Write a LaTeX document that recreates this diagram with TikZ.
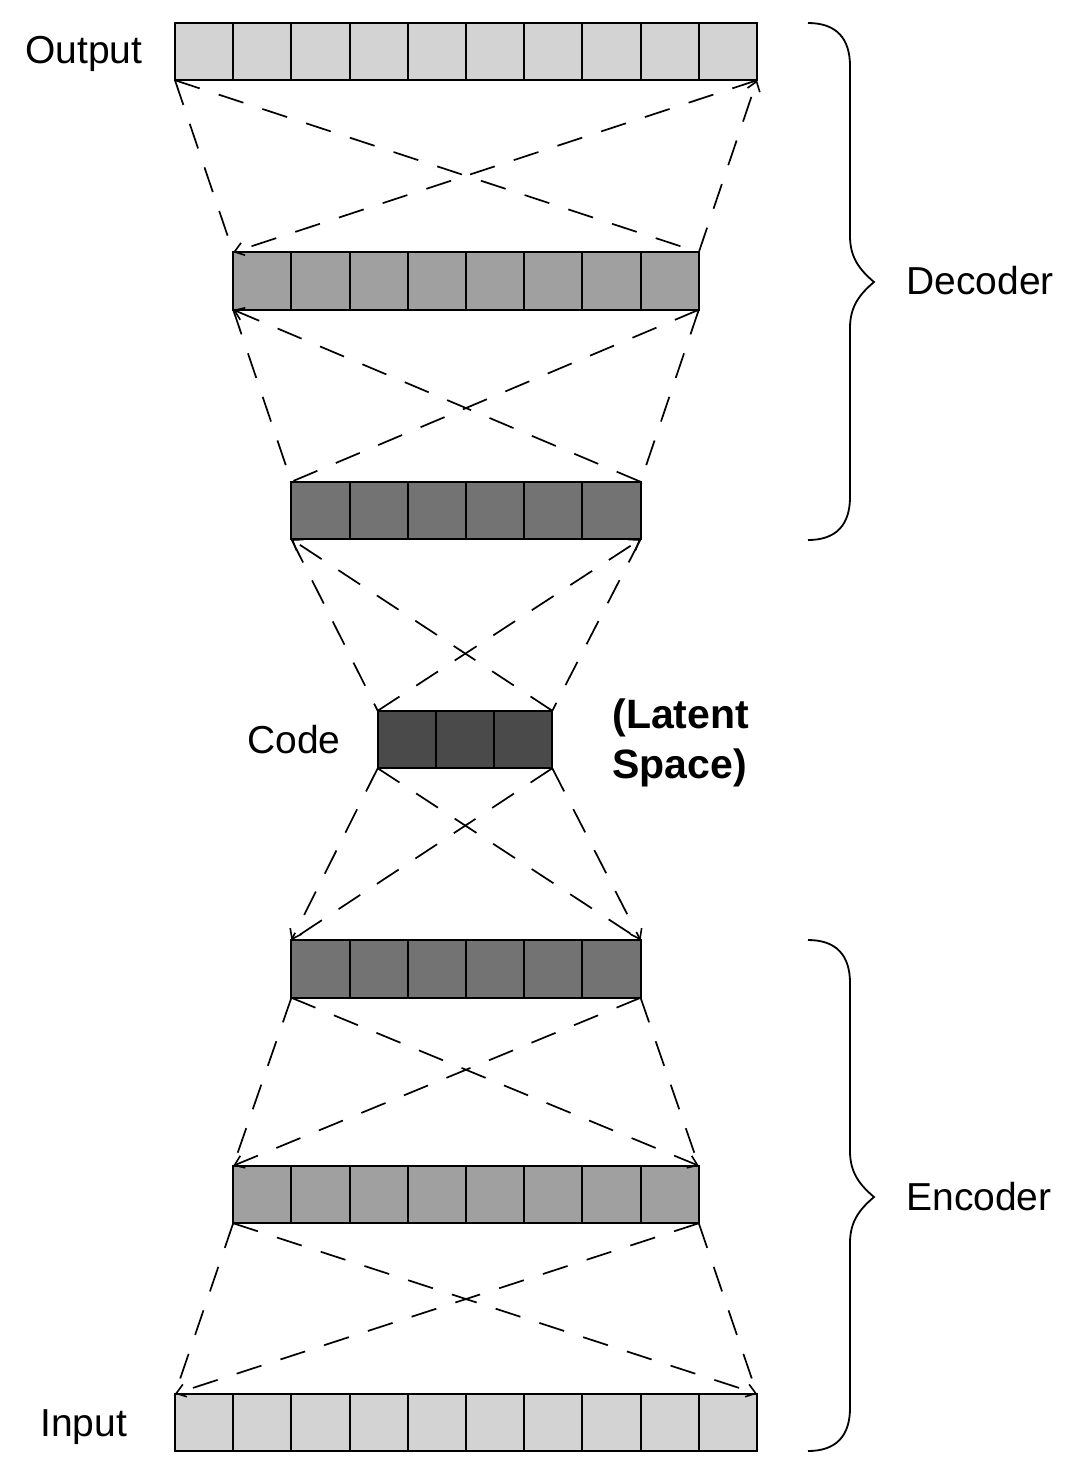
\documentclass[tikz,border=0pt]{standalone}
\usepackage{fontspec}
\setmainfont{Liberation Sans}
\usetikzlibrary{calc,arrows.meta}
\tikzset{
  layerbox/.style={draw=black, line width=1pt, rectangle, inner sep=0pt, outer sep=0pt, minimum height=28.75pt},
  conn/.style={draw=black, line width=0.85pt, dash pattern=on 13pt off 10pt},
  tip/.style={-{Straight Barb[length=4.5pt,width=6.5pt,line width=0.8pt]}},
  lbl/.style={anchor=base west, inner sep=0pt, font=\fontsize{19.5}{23}\selectfont},
  blbl/.style={anchor=base west, inner sep=0pt, font=\fontsize{20.5}{24}\selectfont\bfseries},
  bracefig/.style={draw=black, line width=0.9pt}
}
\newcommand{\mycells}[2]{%
  \foreach \i in {1,...,#2}{%
    \ifnum\i<#2
    \draw[line width=1pt] ($(#1.north west)!{\i/#2}!(#1.north east)$) -- ($(#1.south west)!{\i/#2}!(#1.south east)$);
    \fi
  }%
}
\begin{document}
\begin{tikzpicture}[x=0.5pt,y=-0.5pt]
\useasboundingbox (0,0) rectangle (1081,1480);
\definecolor{clight}{HTML}{D3D3D3}
\definecolor{cmid}{HTML}{A0A0A0}
\definecolor{cdark}{HTML}{737373}
\definecolor{ccode}{HTML}{4A4A4A}

% layers
\node[layerbox, fill=clight, minimum width=291pt] (out) at (466,51.5) {};
\node[layerbox, fill=cmid, minimum width=232.8pt] (d2) at (466,281) {};
\node[layerbox, fill=cdark, minimum width=174.6pt] (d3) at (466,510.5) {};
\node[layerbox, fill=ccode, minimum width=87.3pt] (code) at (465,739.5) {};
\node[layerbox, fill=cdark, minimum width=174.6pt] (e1) at (466,969) {};
\node[layerbox, fill=cmid, minimum width=232.8pt] (e2) at (466,1194.5) {};
\node[layerbox, fill=clight, minimum width=291pt] (inp) at (466,1422.5) {};
\mycells{out}{10}
\mycells{d2}{8}
\mycells{d3}{6}
\mycells{code}{3}
\mycells{e1}{6}
\mycells{e2}{8}
\mycells{inp}{10}

% output - d2
\draw[conn] (out.south west) -- (d2.north west);
\draw[conn, tip] (d2.north east) -- (out.south east);
\draw[conn] (out.south west) -- (d2.north east);
\draw[conn, tip] (out.south east) -- (d2.north west);
% d2 - d3
\draw[conn] (d2.south west) -- (d3.north west);
\draw[conn] (d2.south east) -- (d3.north east);
\draw[conn, tip] (d3.north east) -- (d2.south west);
\draw[conn] (d2.south east) -- (d3.north west);
% d3 - code
\draw[conn] (d3.south west) -- (code.north west);
\draw[conn] (d3.south east) -- (code.north east);
\draw[conn, tip] (code.north east) -- (d3.south west);
\draw[conn, tip] (code.north west) -- (d3.south east);
% code - e1
\draw[conn, tip] (code.south west) -- (e1.north west);
\draw[conn, tip] (code.south east) -- (e1.north east);
\draw[conn] (code.south west) -- (e1.north east);
\draw[conn] (code.south east) -- (e1.north west);
% e1 - e2
\draw[conn] (e1.south west) -- (e2.north west);
\draw[conn] (e1.south east) -- (e2.north east);
\draw[conn, tip] (e1.south west) -- (e2.north east);
\draw[conn, tip] (e1.south east) -- (e2.north west);
% e2 - input
\draw[conn] (e2.south west) -- (inp.north west);
\draw[conn] (e2.south east) -- (inp.north east);
\draw[conn, tip] (e2.south west) -- (inp.north east);
\draw[conn, tip] (e2.south east) -- (inp.north west);

% braces
\draw[bracefig] (808,23) .. controls (836,23) and (850,38) .. (850,66)
  -- (850,236) .. controls (850,258) and (860,270) .. (874,282)
  .. controls (860,294) and (850,306) .. (850,328)
  -- (850,497) .. controls (850,525) and (836,540) .. (808,540);
\draw[bracefig] (808,940) .. controls (836,940) and (850,955) .. (850,983)
  -- (850,1151) .. controls (850,1173) and (860,1185) .. (874,1197)
  .. controls (860,1209) and (850,1221) .. (850,1243)
  -- (850,1408) .. controls (850,1436) and (836,1451) .. (808,1451);

% labels
\node[lbl] (tout) at (25,63) {Output};
\node[lbl] (tinp) at (40,1436) {Input};
\node[lbl] (tcode) at (247,753) {Code};
\node[lbl] (tdec) at (906,294) {Decoder};
\node[lbl] (tenc) at (906,1210) {Encoder};
\node[blbl] (tlat1) at (612,728) {(Latent};
\node[blbl] (tlat2) at (612,778) {Space)};
\end{tikzpicture}
\end{document}
